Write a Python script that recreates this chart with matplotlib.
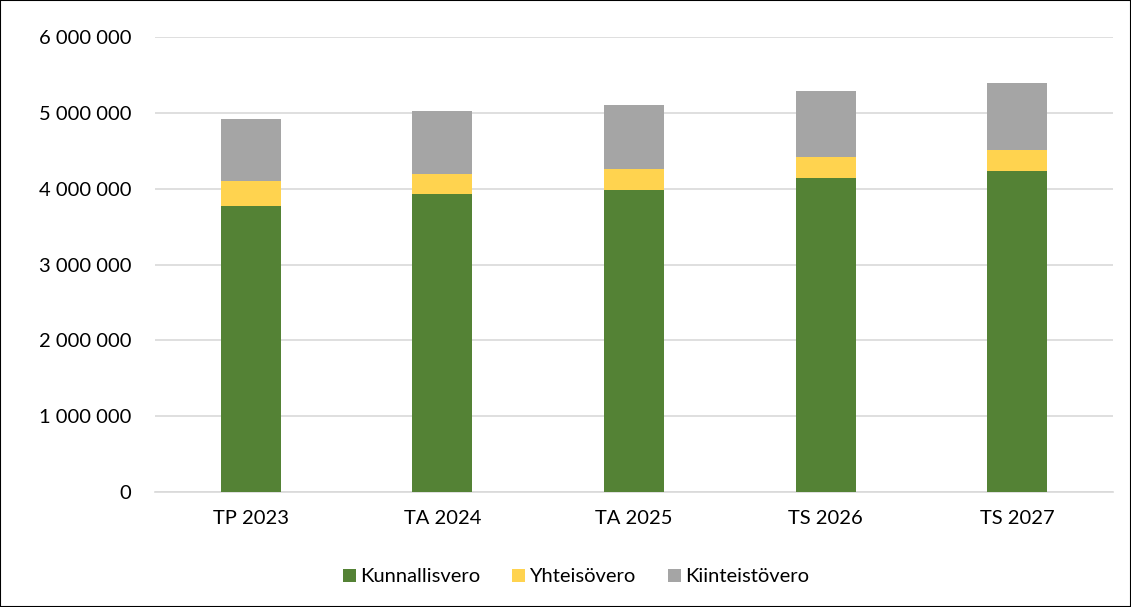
import numpy as np
import matplotlib.pyplot as plt
from matplotlib.patches import Rectangle

categories = ['TP 2023', 'TA 2024', 'TA 2025', 'TS 2026', 'TS 2027']
kunnallisvero = [3770000, 3933000, 3986000, 4144000, 4237000]
yhteisovero = [325000, 255000, 268000, 272000, 277000]
kiinteistovero = [820000, 836000, 854000, 868000, 885000]
yticks = [0, 1000000, 2000000, 3000000, 4000000, 5000000, 6000000]

plt.rcParams['font.family'] = ['Lato', 'DejaVu Sans']

fig = plt.figure(figsize=(11.31, 6.07), dpi=100)
ax = fig.add_axes([155/1131, 1 - 492/607, 958/1131, 455/607])

x = np.arange(len(categories))
w = 0.313
k = np.array(kunnallisvero)
y = np.array(yhteisovero)
ax.bar(x, k, w, color='#548235', label='Kunnallisvero', zorder=3)
ax.bar(x, y, w, bottom=k, color='#FFD34F', label='Yhteisövero', zorder=3)
ax.bar(x, kiinteistovero, w, bottom=k + y, color='#A5A5A5', label='Kiinteistövero', zorder=3)

ax.set_xlim(-0.5, len(categories) - 0.5)
ax.set_ylim(0, 6000000)
ax.set_yticks(yticks)
ax.set_yticklabels(['{:,}'.format(v).replace(',', ' ') for v in yticks])
ax.set_xticks(x)
ax.set_xticklabels(categories)
ax.grid(axis='y', color='#D9D9D9', linewidth=1.2, zorder=0)
for s in ['top', 'right', 'left']:
    ax.spines[s].set_visible(False)
ax.spines['bottom'].set_color('#D9D9D9')
ax.spines['bottom'].set_linewidth(1.2)
ax.tick_params(axis='both', length=0, labelsize=14.5, colors='#000000')
ax.tick_params(axis='y', pad=17)
ax.tick_params(axis='x', pad=13)

# legend sits a little right of the figure centre, as in the reference
fig.legend(loc='center', bbox_to_anchor=(576/1131, 1 - 577/607), ncol=3, frameon=False,
           fontsize=14.5, handlelength=0.65, handleheight=0.65, handletextpad=0.2,
           columnspacing=1.6)

fig.patches.append(Rectangle((0, 0), 1, 1, transform=fig.transFigure, fill=False,
                             edgecolor='#000000', linewidth=1.5))

fig.savefig('out.png', dpi=100)
